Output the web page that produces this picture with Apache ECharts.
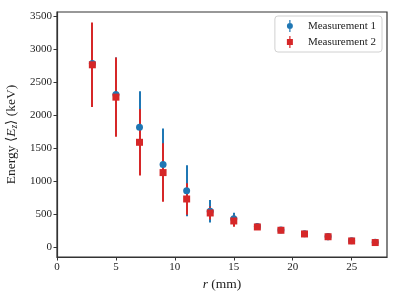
<!DOCTYPE html>
<html>
<head>
<meta charset="utf-8">
<script src="https://cdn.jsdelivr.net/npm/echarts@6/dist/echarts.min.js"></script>
<style>html,body{margin:0;padding:0;background:#fff;}#c{width:399px;height:299px;}</style>
</head>
<body>
<div id="c"></div>
<script>
// Data
const radii = [3, 5, 7, 9, 11, 13, 15, 17, 19, 21, 23, 25, 27];
const m1Values = [2780, 2310, 1815, 1248, 852, 540, 428, 310, 258, 200, 158, 95, 70];
const m1Errors = [590, 560, 545, 546, 387, 170, 90, 45, 30, 20, 55, 15, 10];
const m2Values = [2760, 2270, 1586, 1127, 727, 515, 394, 303, 253, 197, 155, 91, 67];
const m2Errors = [640, 600, 505, 443, 240, 100, 88, 30, 20, 15, 15, 10, 8];
const xTicks = [0, 5, 10, 15, 20, 25];
const yTicks = [0, 500, 1000, 1500, 2000, 2500, 3000, 3500];
const seriesNames = ['Measurement 1', 'Measurement 2'];

const BLUE = '#1f77b4', RED = '#d62728';
const FONT = '"Liberation Serif", "DejaVu Serif", serif';
const NAME_SIZE = 13.5;

function errData(vals, errs) {
  return radii.map((r, i) => [r, vals[i] - errs[i], vals[i] + errs[i]]);
}
function errSeries(vals, errs, color, z) {
  return {
    type: 'custom',
    name: 'err' + color,
    z: z,
    data: errData(vals, errs),
    renderItem: function (params, api) {
      const p1 = api.coord([api.value(0), api.value(1)]);
      const p2 = api.coord([api.value(0), api.value(2)]);
      const x = Math.round(p1[0]);
      return {
        type: 'line',
        shape: { x1: x, y1: p1[1], x2: x, y2: p2[1] },
        style: { stroke: color, lineWidth: 2 }
      };
    },
    silent: true
  };
}

const chart = echarts.init(document.getElementById('c'), null, { renderer: 'canvas' });
chart.setOption({
  animation: false,
  textStyle: { fontFamily: FONT },
  grid: { left: 57, right: 12, top: 12, bottom: 42, containLabel: false, outerBoundsMode: 'none',
          show: true, borderColor: '#333', borderWidth: 1.2 },
  legend: {
    right: 17, top: 16,
    orient: 'vertical',
    itemGap: 4,
    itemWidth: 6, itemHeight: 12,
    padding: [4, 6, 4, 12],
    borderColor: '#d0d0d0', borderWidth: 1, borderRadius: 3,
    backgroundColor: 'rgba(255,255,255,0.8)',
    textStyle: { fontFamily: FONT, fontSize: 11, color: '#222', padding: [0, 0, 0, 10] },
    data: [
      { name: seriesNames[0], icon: 'path://M2.4,0 H3.6 V3.1 H2.4 Z M2.4,8.9 H3.6 V12 H2.4 Z M0,6 A3,3 0 1,0 6,6 A3,3 0 1,0 0,6 Z' },
      { name: seriesNames[1], icon: 'path://M2.4,0 H3.6 V3 H2.4 Z M0,3 H6 V9 H0 Z M2.4,9 H3.6 V12 H2.4 Z' }
    ]
  },
  xAxis: {
    type: 'value', min: 0, max: 28,
    name: '{i|r} (mm)', nameLocation: 'middle', nameGap: 20,
    nameTextStyle: { fontFamily: FONT, fontSize: NAME_SIZE, color: '#222',
      rich: { i: { fontStyle: 'italic', fontFamily: FONT, fontSize: NAME_SIZE } } },
    axisLine: { show: true, onZero: false, lineStyle: { color: '#333', width: 1.2 } },
    axisTick: { show: true, length: 3.5, lineStyle: { color: '#333' }, customValues: xTicks },
    axisLabel: { fontFamily: FONT, fontSize: 11, color: '#222', margin: 5, customValues: xTicks,
                 formatter: v => String(v) },
    splitLine: { show: false }
  },
  yAxis: {
    type: 'value', min: -152, max: 3560,
    name: 'Energy ⟨{i|E}{s|z}⟩ (keV)', nameLocation: 'middle', nameGap: 31,
    nameTextStyle: { fontFamily: FONT, fontSize: NAME_SIZE, color: '#222',
      rich: { i: { fontStyle: 'italic', fontFamily: FONT, fontSize: NAME_SIZE },
              s: { fontStyle: 'italic', fontFamily: FONT, fontSize: 9.5, verticalAlign: 'bottom', padding: [6, 0, 0, 0] } } },
    axisLine: { show: true, onZero: false, lineStyle: { color: '#333', width: 1.2 } },
    axisTick: { show: true, length: 3.5, lineStyle: { color: '#333' }, customValues: yTicks },
    axisLabel: { fontFamily: FONT, fontSize: 11, color: '#222', margin: 5, customValues: yTicks,
                 formatter: v => String(v) },
    splitLine: { show: false }
  },
  series: [
    errSeries(m1Values, m1Errors, BLUE, 1),
    errSeries(m2Values, m2Errors, RED, 1),
    {
      type: 'scatter', name: seriesNames[0], z: 2,
      symbol: 'circle', symbolSize: 7,
      itemStyle: { color: BLUE, opacity: 1 },
      data: radii.map((r, i) => [r, m1Values[i]])
    },
    {
      type: 'scatter', name: seriesNames[1], z: 3,
      symbol: 'rect', symbolSize: 7,
      itemStyle: { color: RED, opacity: 1 },
      data: radii.map((r, i) => [r, m2Values[i]])
    }
  ]
});
</script>
</body>
</html>
